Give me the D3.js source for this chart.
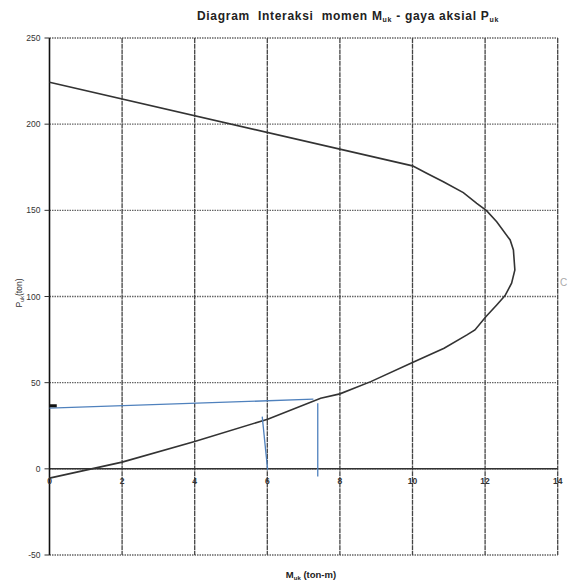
<!DOCTYPE html>
<html><head><meta charset="utf-8">
<script src="https://cdn.jsdelivr.net/npm/d3@7"></script>
<style>body{margin:0;background:#fff;} svg{display:block;} text{font-family:"Liberation Sans",Arial,sans-serif;}</style>
</head><body>
<svg id="chart" width="569" height="583"></svg>
<script>
// ---- data ----
const xTicks = [0, 2, 4, 6, 8, 10, 12, 14];
const yTicks = [-50, 0, 50, 100, 150, 200, 250];
const curveM = [0, 10, 10.39, 10.85, 11.4, 11.77, 12.04, 12.32, 12.69, 12.78, 12.82, 12.73, 12.55, 12.32, 12.02, 11.72, 11.5, 10.87, 10, 8.85, 8, 7.47, 6.01, 4.0, 2.0, 0];
const curveP = [224.3, 175.8, 171.5, 166.6, 160.3, 154.1, 149.8, 143.4, 132.8, 127, 115.4, 107.7, 100.5, 95.1, 88.3, 80.6, 77.7, 70, 61.7, 50.6, 43.5, 41, 28.8, 15.8, 3.9, -5.4];
// blue guide segments [M1, P1, M2, P2]
const guideM1 = [0, 7.39, 5.86];
const guideP1 = [35.2, 38.1, 30.3];
const guideM2 = [7.27, 7.39, 6.01];
const guideP2 = [40.4, -4.5, -0.6];
// small black marker
const markM = [0, 0.2];
const markP = [36.6, 36.6];

const svg = d3.select("#chart");
const x = d3.scaleLinear().domain([0, 14]).range([49.5, 557.7]);
const y = d3.scaleLinear().domain([-50, 250]).range([555, 38]);

// horizontal gridlines
svg.append("g").selectAll("line").data(yTicks).join("line")
  .attr("x1", x(0)).attr("x2", x(14))
  .attr("y1", d => y(d)).attr("y2", d => y(d))
  .attr("stroke", "#666").attr("stroke-width", 1.4).attr("stroke-dasharray", "1.5,1");
// vertical gridlines
svg.append("g").selectAll("line").data(xTicks.filter(d => d !== 0)).join("line")
  .attr("x1", d => x(d)).attr("x2", d => x(d))
  .attr("y1", y(250)).attr("y2", y(-50))
  .attr("stroke", "#444").attr("stroke-width", 1.3).attr("stroke-dasharray", "5,0.7");

// axes lines
svg.append("line").attr("x1", x(0)).attr("x2", x(14)).attr("y1", y(0)).attr("y2", y(0))
  .attr("stroke", "#333").attr("stroke-width", 1.5);
svg.append("line").attr("x1", x(0)).attr("x2", x(0)).attr("y1", y(250)).attr("y2", y(-50))
  .attr("stroke", "#111").attr("stroke-width", 1.6);

// y ticks
svg.append("g").selectAll("line").data(yTicks).join("line")
  .attr("x1", x(0) - 5).attr("x2", x(0))
  .attr("y1", d => y(d)).attr("y2", d => y(d))
  .attr("stroke", "#333").attr("stroke-width", 1);
svg.append("g").selectAll("text").data(yTicks).join("text")
  .attr("x", x(0) - 9).attr("y", d => y(d) + 3)
  .attr("text-anchor", "end").attr("font-size", 8.5).attr("fill", "#333")
  .text(d => d);
// x tick labels
svg.append("g").selectAll("text").data(xTicks).join("text")
  .attr("x", d => x(d)).attr("y", y(0) + 15)
  .attr("text-anchor", "middle").attr("font-size", 8.5).attr("font-weight", "bold").attr("fill", "#333")
  .text(d => d);

// curve
const pts = curveM.map((m, i) => [m, curveP[i]]);
svg.append("path").datum(pts)
  .attr("d", d3.line().x(d => x(d[0])).y(d => y(d[1])).curve(d3.curveLinear))
  .attr("fill", "none").attr("stroke", "#333").attr("stroke-width", 1.6);

// blue guides
svg.append("g").selectAll("line").data(guideM1.map((m, i) => i)).join("line")
  .attr("x1", i => x(guideM1[i])).attr("y1", i => y(guideP1[i]))
  .attr("x2", i => x(guideM2[i])).attr("y2", i => y(guideP2[i]))
  .attr("stroke", "#4f81bd").attr("stroke-width", 1.3);

// marker
svg.append("line").attr("x1", x(markM[0])).attr("x2", x(markM[1]))
  .attr("y1", y(markP[0])).attr("y2", y(markP[1]))
  .attr("stroke", "#111").attr("stroke-width", 3);

// title
const t = svg.append("text").attr("x", 348).attr("y", 20).attr("text-anchor", "middle")
  .attr("font-size", 12).attr("font-weight", "bold").attr("fill", "#222")
  .attr("letter-spacing", 0.7).style("white-space", "pre");
t.append("tspan").text("Diagram  Interaksi  momen M");
t.append("tspan").attr("font-size", 7).attr("dy", 2).text("uk");
t.append("tspan").attr("dy", -2).text(" - gaya aksial P");
t.append("tspan").attr("font-size", 7).attr("dy", 2).text("uk");

// x axis label
const xl = svg.append("text").attr("x", 311).attr("y", 578).attr("text-anchor", "middle")
  .attr("font-size", 9.5).attr("font-weight", "bold").attr("fill", "#222").style("white-space", "pre");
xl.append("tspan").text("M");
xl.append("tspan").attr("font-size", 6).attr("dy", 2).text("uk");
xl.append("tspan").attr("dy", -2).text(" (ton-m)");

// y axis label
const yl = svg.append("text").attr("transform", "translate(22,293) rotate(-90)")
  .attr("text-anchor", "middle").attr("font-size", 8.5).attr("fill", "#333");
yl.append("tspan").text("P");
yl.append("tspan").attr("font-size", 5.5).attr("dy", 2).text("uk");
yl.append("tspan").attr("dy", -2).text("(ton)");

// stray glyph at right edge
svg.append("text").attr("x", 560).attr("y", 286).attr("font-size", 10).attr("fill", "#aaa").text("C");
</script>
</body></html>
